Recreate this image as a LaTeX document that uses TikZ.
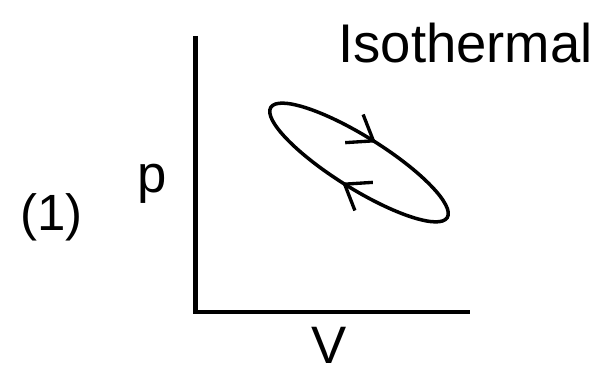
\documentclass[tikz,border=0pt]{standalone}
\usepackage{fontspec}
\setmainfont{Liberation Sans}
\usepackage{tikz}
\usetikzlibrary{arrows.meta, decorations.markings}

\begin{document}
\begin{tikzpicture}[x=0.02cm,y=0.02cm,
  lbl/.style={font=\fontsize{30}{36}\selectfont,inner sep=0pt,anchor=base west},
  axis/.style={line width=2.4pt,line join=miter},
  cyc/.style={line width=2pt,postaction={decorate},
    decoration={markings,
      mark=at position 0.242 with {\arrowreversed{Straight Barb[length=13pt,width=19pt,line width=1.9pt]}},
      mark=at position 0.742 with {\arrowreversed{Straight Barb[length=13pt,width=19pt,line width=1.9pt]}}}}]
  \useasboundingbox (0,0) rectangle (604,369);
  %% axes
  \coordinate (o) at (195.5,57);
  \coordinate (ytop) at (195.5,333);
  \coordinate (xend) at (470,57);
  \draw[axis](ytop)--(o)--(xend);
  %% labels
  \node[lbl](num) at (20,139){\fontsize{29}{34}\selectfont(1)};
  \node[lbl](pl) at (137.5,177){p};
  \node[lbl](vl) at (311.5,6){V};
  \node[lbl,font=\fontsize{31}{37}\selectfont](ttl) at (338,306){Isothermal};
  %% cycle
  \coordinate (c) at (359,206.5);
  \draw[cyc,rotate around={-32:(c)}](c) ellipse[x radius=104,y radius=26];
\end{tikzpicture}
\end{document}
